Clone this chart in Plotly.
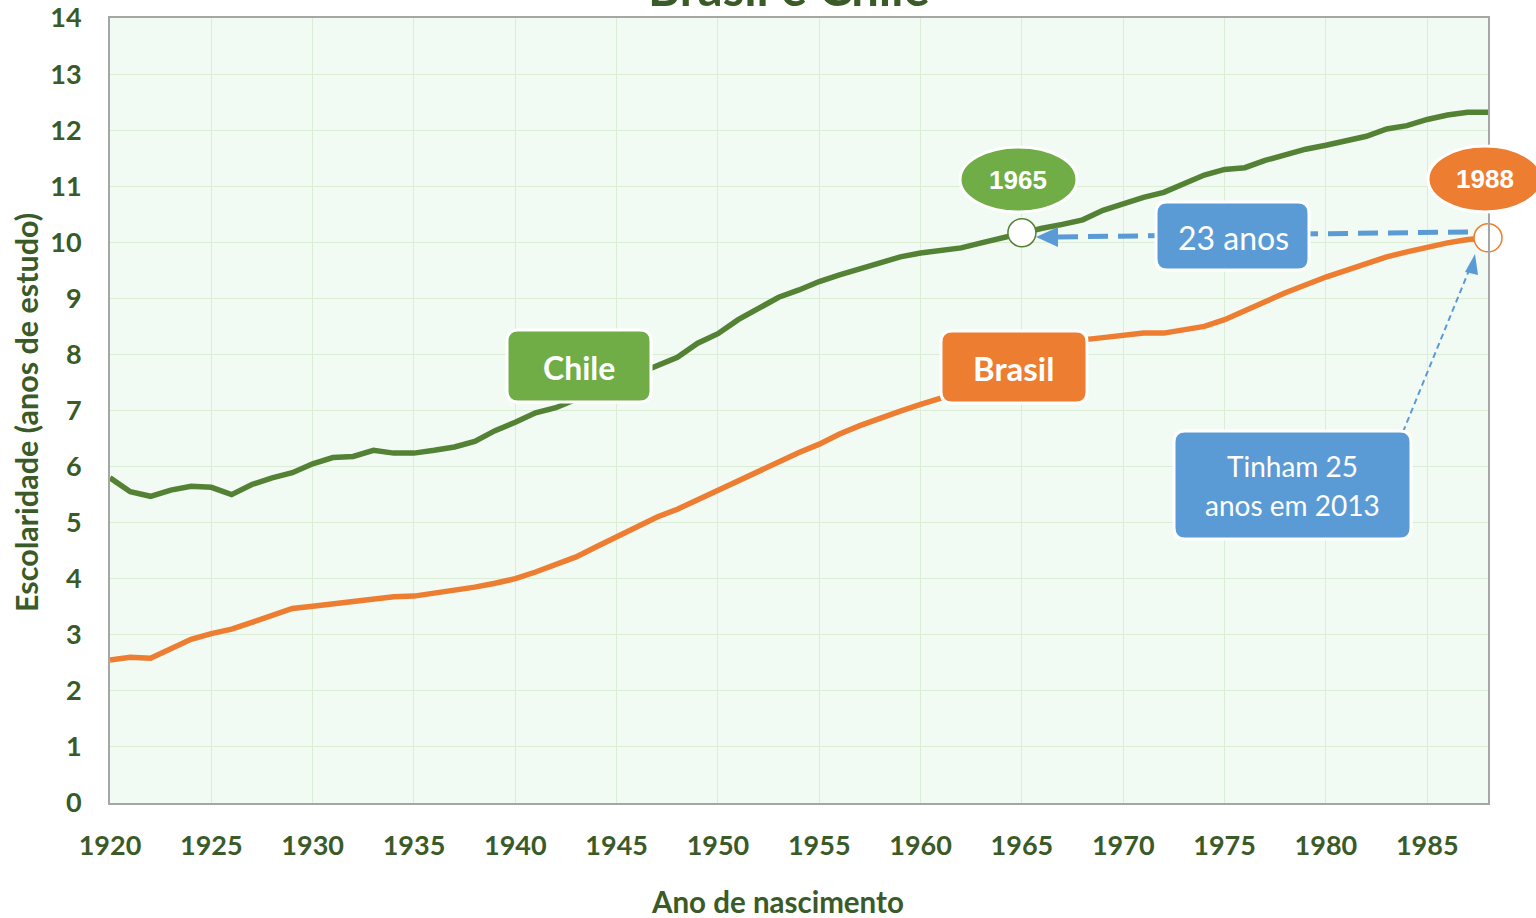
import plotly.graph_objects as go

# ---------------- data ----------------
years = list(range(1920, 1989))
chile = [5.80, 5.55, 5.47, 5.58, 5.65, 5.63, 5.50, 5.68, 5.80, 5.89,
         6.05, 6.16, 6.18, 6.29, 6.24, 6.24, 6.29, 6.35, 6.45, 6.64,
         6.79, 6.96, 7.05, 7.20, 7.35, 7.50, 7.65, 7.80, 7.95, 8.20,
         8.37, 8.62, 8.82, 9.02, 9.15, 9.30, 9.42, 9.52, 9.64, 9.74,
         9.81, 9.86, 9.90, 9.99, 10.08, 10.17, 10.25, 10.32, 10.40, 10.57,
         10.69, 10.80, 10.89, 11.04, 11.20, 11.30, 11.33, 11.46, 11.56, 11.66,
         11.73, 11.81, 11.89, 12.02, 12.08, 12.19, 12.27, 12.32, 12.32]
brasil = [2.55, 2.60, 2.58, 2.76, 2.92, 3.02, 3.10, 3.22, 3.35, 3.47,
          3.51, 3.55, 3.58, 3.64, 3.68, 3.69, 3.74, 3.80, 3.85, 3.92,
          4.00, 4.12, 4.26, 4.39, 4.57, 4.74, 4.91, 5.10, 5.24, 5.41,
          5.57, 5.75, 5.92, 6.10, 6.25, 6.40, 6.58, 6.73, 6.87, 6.99,
          7.11, 7.22, 7.37, 7.52, 7.67, 7.82, 7.97, 8.12, 8.26, 8.30,
          8.35, 8.38, 8.38, 8.43, 8.50, 8.62, 8.77, 8.94, 9.10, 9.25,
          9.38, 9.50, 9.63, 9.74, 9.83, 9.92, 9.99, 10.05, 10.08]
x_ticks = list(range(1920, 1986, 5))
y_ticks = list(range(0, 15))
chile_mark_year = 1965
brasil_mark_year = 1988

# ---------------- style ----------------
GREEN = "#548235"
LGREEN = "#70AD47"
ORANGE = "#ED7D31"
BLUE = "#5B9BD5"
TXT = "#3A5A27"
FONT = "Lato"

W, H = 1536, 918
L, R, T, B = 110, 1488, 18, 803


def px(x):
    return (x - L) / (R - L)


def py(y):
    return (B - y) / (B - T)


def rrect(x0, y0, x1, y1, r=11):
    p = [
        f"M {px(x0 + r)},{py(y0)}",
        f"L {px(x1 - r)},{py(y0)}",
        f"Q {px(x1)},{py(y0)} {px(x1)},{py(y0 + r)}",
        f"L {px(x1)},{py(y1 - r)}",
        f"Q {px(x1)},{py(y1)} {px(x1 - r)},{py(y1)}",
        f"L {px(x0 + r)},{py(y1)}",
        f"Q {px(x0)},{py(y1)} {px(x0)},{py(y1 - r)}",
        f"L {px(x0)},{py(y0 + r)}",
        f"Q {px(x0)},{py(y0)} {px(x0 + r)},{py(y0)}",
        "Z",
    ]
    return " ".join(p)


def tri(pts):
    s = f"M {px(pts[0][0])},{py(pts[0][1])}"
    for a, b in pts[1:]:
        s += f" L {px(a)},{py(b)}"
    return s + " Z"


fig = go.Figure()

fig.add_trace(go.Scatter(x=years, y=chile, mode="lines", name="Chile",
                         line=dict(color=GREEN, width=5.5), hoverinfo="x+y"))
fig.add_trace(go.Scatter(x=years, y=brasil, mode="lines", name="Brasil",
                         line=dict(color=ORANGE, width=5.5), hoverinfo="x+y"))

shapes = []
# thick dashed arrow (23 anos)
shapes.append(dict(type="line", xref="paper", yref="paper",
                   x0=px(1468), y0=py(232), x1=px(1052), y1=py(237),
                   line=dict(color=BLUE, width=5, dash="20px,10px"), layer="above"))
shapes.append(dict(type="path", xref="paper", yref="paper",
                   path=tri([(1036, 237), (1058, 227), (1058, 247)]),
                   fillcolor=BLUE, line=dict(width=0), layer="above"))
# thin dashed arrow (Tinham 25 ...)
shapes.append(dict(type="line", xref="paper", yref="paper",
                   x0=px(1403), y0=py(432), x1=px(1470), y1=py(268),
                   line=dict(color=BLUE, width=2, dash="6px,4px"), layer="above"))
shapes.append(dict(type="path", xref="paper", yref="paper",
                   path=tri([(1475, 254), (1465, 272), (1478, 275)]),
                   fillcolor=BLUE, line=dict(width=0), layer="above"))
# label boxes
for (x0, y0, x1, y1, col) in [(507, 330, 651, 402, LGREEN),
                              (941, 331, 1087, 403, ORANGE),
                              (1156, 202, 1309, 270, BLUE),
                              (1174, 431, 1411, 539, BLUE)]:
    shapes.append(dict(type="path", xref="paper", yref="paper",
                       path=rrect(x0, y0, x1, y1), fillcolor=col,
                       line=dict(color="white", width=3), layer="above"))
# ellipses
for (x0, y0, x1, y1, col) in [(960, 147, 1077, 212, LGREEN),
                              (1428, 146, 1542, 212, ORANGE)]:
    shapes.append(dict(type="circle", xref="paper", yref="paper",
                       x0=px(x0), y0=py(y0), x1=px(x1), y1=py(y1),
                       fillcolor=col, line=dict(color="white", width=3), layer="above"))

fig.add_trace(go.Scatter(x=[chile_mark_year], y=[chile[years.index(chile_mark_year)]],
                         mode="markers", cliponaxis=False, showlegend=False,
                         marker=dict(size=28, color="white", line=dict(color=GREEN, width=1.5))))
fig.add_trace(go.Scatter(x=[brasil_mark_year], y=[brasil[years.index(brasil_mark_year)]],
                         mode="markers", cliponaxis=False, showlegend=False,
                         marker=dict(size=28, color="white", line=dict(color=ORANGE, width=1.5))))

ann = []


def label(x, y, text, size, bold=True, family=FONT, color="white", angle=0):
    ann.append(dict(xref="paper", yref="paper", x=px(x), y=py(y), text=text,
                    showarrow=False, xanchor="center", yanchor="middle", textangle=angle,
                    font=dict(family=family, size=size, color=color,
                              weight="bold" if bold else "normal")))


label(579, 367, "Chile", 32)
label(1014, 368, "Brasil", 33)
label(1233, 237, "23 anos", 32, bold=False)
label(1292, 466, "Tinham 25", 28, bold=False)
label(1292, 505, "anos em 2013", 28, bold=False)
label(1018, 180, "1965", 26, family="Liberation Sans")
label(1485, 179, "1988", 26, family="Liberation Sans")
label(789, -13, "Brasil e Chile", 49, color=TXT)
label(777, 901, "Ano de nascimento", 29.5, color=TXT)
label(26, 413, "Escolaridade (anos de estudo)", 30.5, color=TXT, angle=-90)

fig.update_layout(
    width=W, height=H,
    margin=dict(l=L, r=W - R, t=T, b=H - B),
    paper_bgcolor="white", plot_bgcolor="#F2FAF4",
    showlegend=False, shapes=shapes, annotations=ann,
    font=dict(family=FONT, color=TXT),
    xaxis=dict(range=[1920, 1988], tickvals=x_ticks, ticktext=[str(v) for v in x_ticks],
               showgrid=True, gridcolor="#DCEDD5", gridwidth=1, automargin=False,
               showline=True, linecolor="#A6A6A6", linewidth=2, mirror=True,
               zeroline=False, ticks="", ticklabelstandoff=18,
               tickfont=dict(family=FONT, size=27, color=TXT, weight="bold")),
    yaxis=dict(range=[0, 14], tickvals=y_ticks, automargin=False,
               showgrid=True, gridcolor="#DCEDD5", gridwidth=1,
               showline=True, linecolor="#A6A6A6", linewidth=2, mirror=True,
               zeroline=False, ticks="", ticklabelstandoff=21,
               tickfont=dict(family=FONT, size=27, color=TXT, weight="bold")),
)

fig.write_html("out.html", config={"displayModeBar": False},
               post_script="document.body.style.margin='0px';document.body.style.overflow='hidden';")
